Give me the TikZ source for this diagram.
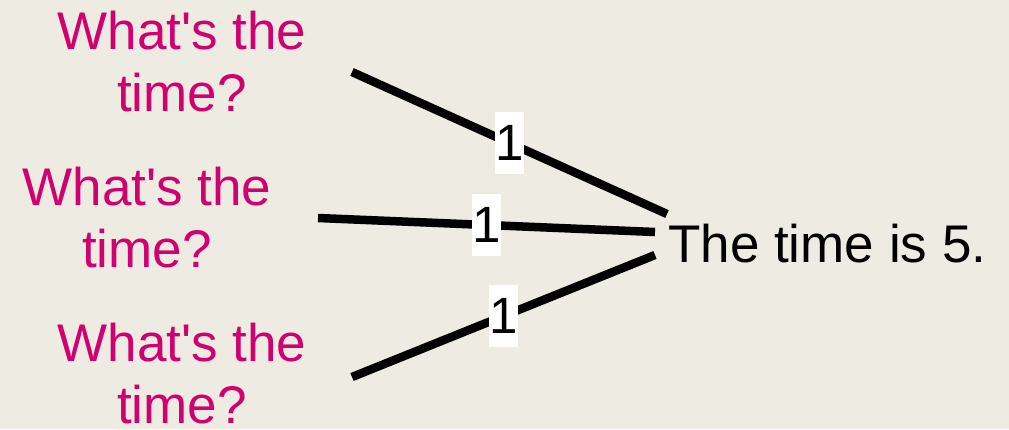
\documentclass[tikz,border=0pt]{standalone}
\usepackage{fontspec}
\setmainfont{Liberation Sans}[Ligatures=TeXOff]
\definecolor{bg}{HTML}{EEEBE3}
\definecolor{qpink}{HTML}{D0006F}
\begin{document}
\begin{tikzpicture}[x=1pt,y=-1pt,
  q/.style={align=center,inner sep=0pt,anchor=south,text=qpink,font=\fontsize{53}{62}\selectfont},
  ans/.style={inner sep=0pt,anchor=base west,font=\fontsize{53}{62}\selectfont},
  conn/.style={line width=8.5pt},
  lab/.style={fill=white,inner sep=0pt,minimum width=29pt,minimum height=62pt,font=\fontsize{51}{60}\selectfont}]
\fill[bg] (0,0) rectangle (1009,429);
\useasboundingbox (0,0) rectangle (1009,429);
\node[q] (q1) at (182,112) {What's the\\time?};
\node[q] (q2) at (147,268) {What's the\\time?};
\node[q] (q3) at (182,424) {What's the\\time?};
\node[ans] (t) at (668,262) {The time is 5.};
\coordinate (a1) at (352,72);
\coordinate (b1) at (667,214);
\coordinate (a2) at (318,218);
\coordinate (b2) at (655,232);
\coordinate (a3) at (352,377);
\coordinate (b3) at (655,255);
\draw[conn] (a1) -- node[lab,pos=0.5]{1} (b1);
\draw[conn] (a2) -- node[lab,pos=0.5]{1} (b2);
\draw[conn] (a3) -- node[lab,pos=0.5]{1} (b3);
\end{tikzpicture}
\end{document}
